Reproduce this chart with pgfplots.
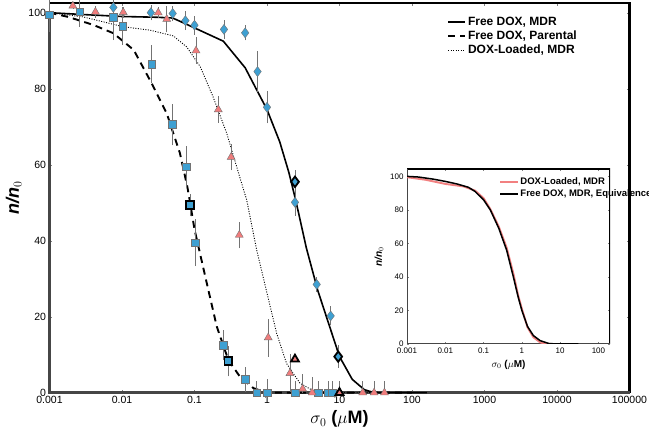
\documentclass[border=0pt]{standalone}
\usepackage{pgfplots}
\pgfplotsset{compat=1.18}
\usepackage{fontspec}
\setmainfont{Liberation Sans}
\definecolor{sq}{RGB}{62,160,210}
\definecolor{tri}{RGB}{240,125,125}
\definecolor{axgray}{RGB}{70,70,70}
\definecolor{errgray}{RGB}{115,115,115}
\definecolor{inred}{RGB}{242,128,128}

\begin{document}
\begin{tikzpicture}
\path[use as bounding box] (0,0) rectangle (649pt,-443pt);
\begin{axis}[
  at={(49.5pt,-392.7pt)}, anchor=south west,
  scale only axis, width=580pt, height=389.7pt,
  xmode=log, xmin=0.001, xmax=100000, ymin=0, ymax=102.55,
  clip=false,
  axis line style={draw=none},
  unbounded coords=jump,
  xtick={0.001,0.01,0.1,1,10,100,1000,10000,100000},
  xticklabels={0.001,0.01,0.1,1,10,100,1000,10000,100000},
  ytick={0,20,40,60,80,100},
  yticklabels={0,20,40,60,80,100},
  xminorticks=false,
  major tick length=3pt, tick align=inside,
  ticklabel style={font=\fontsize{10.5}{12}\selectfont},
  xlabel={\bfseries $\sigma_0$ ($\mu$M)},
  xlabel style={font=\fontsize{18}{20}\selectfont},
  ylabel={\bfseries\itshape n/n$_0$},
  ylabel style={font=\fontsize{18}{20}\selectfont},
  legend style={draw=none, fill=none, at={(0.68,0.975)}, anchor=north west,
    font=\bfseries\fontsize{12}{14}\selectfont},
  legend cell align=left,
]
\draw[line width=2.6pt, black] (rel axis cs:0,1) -- (rel axis cs:1,1) -- (rel axis cs:1,0);
\draw[line width=2.6pt, axgray] (rel axis cs:0,0.975) -- (rel axis cs:0,0) -- (rel axis cs:1,0);

\addplot[black, line width=1.6pt, no marks] coordinates {
(0.001,100) (0.003,99.5) (0.01,99) (0.03,98.8) (0.05,98.6) (0.1,96) (0.25,92.5) (0.5,85.5)
(1.0,74.5) (1.5,66) (2.0,58) (2.5,50.5) (3.5,38) (5,27) (7,18.5) (10,9.5) (15,3.5) (22,0.8) (30,0) (160,0)};
\addlegendentry{{Free DOX, MDR}}
\addplot[black, line width=1.9pt, dash pattern=on 7pt off 5pt, no marks] coordinates {
(0.001,100) (0.0018,98.9) (0.004,96.8) (0.0076,94.6) (0.0145,90.2) (0.0257,81.4) (0.0414,73.5)
(0.063,63) (0.08,54) (0.087,50) (0.1,43) (0.147,29) (0.203,17.4) (0.293,8.6) (0.424,4.2) (0.65,1.2) (1,0) (100,0)};
\addlegendentry{{Free DOX, Parental}}
\addplot[black, line width=0.9pt, dash pattern=on 1pt off 1.5pt, no marks] coordinates {
(0.001,100) (0.0029,98.9) (0.0104,96.3) (0.0243,95.4) (0.051,93.9) (0.078,91) (0.12,85.8) (0.18,77.9)
(0.278,68.3) (0.42,56.8) (0.525,50.7) (0.72,37.6) (1.0,26.2) (1.36,15.6) (1.86,7.7) (2.85,2.5) (4.35,0.5) (6,0) (40,0)};
\addlegendentry{{DOX-Loaded, MDR}}

\addplot[errgray, line width=0.6pt, no marks, forget plot] coordinates {
(0.001,95) (0.001,104) (0.001,nan)
(0.0026,96.3) (0.0026,104.3) (0.0026,nan)
(0.0076,92.8) (0.0076,104.8) (0.0076,nan)
(0.0102,91.5) (0.0102,101.5) (0.0102,nan)
(0.0257,81.5) (0.0257,91.5) (0.0257,nan)
(0.0497,65.1) (0.0497,76.1) (0.0497,nan)
(0.0762,54) (0.0762,65) (0.0762,nan)
(0.102,33.3) (0.102,45.7) (0.102,nan)
(0.25,8.5) (0.25,16.5) (0.25,nan)
(0.5,0.2) (0.5,6.8) (0.5,nan)
(0.72,0) (0.72,3) (0.72,nan)
(1.0,0) (1.0,3.5) (1.0,nan)
(2.43,0) (2.43,3) (2.43,nan)
(5.1,0) (5.1,3) (5.1,nan)
(7.0,0) (7.0,3) (7.0,nan)
(8.0,0) (8.0,3) (8.0,nan)
(0.087,46.4) (0.087,52.4) (0.087,nan)
(0.293,4.3) (0.293,12.3) (0.293,nan)
(0.025,98) (0.025,102) (0.025,nan)
(0.05,97.8) (0.05,101.8) (0.05,nan)
(0.075,95.4) (0.075,100.4) (0.075,nan)
(0.1,94.2) (0.1,99.2) (0.1,nan)
(0.255,93.1) (0.255,98.1) (0.255,nan)
(0.5,92.7) (0.5,96.7) (0.5,nan)
(0.74,79) (0.74,90) (0.74,nan)
(1.0,70.9) (1.0,79.3) (1.0,nan)
(2.43,46.6) (2.43,58.5) (2.43,nan)
(4.85,26.5) (4.85,30.5) (4.85,nan)
(7.55,17.7) (7.55,22.7) (7.55,nan)
(9.6,6.5) (9.6,12.5) (9.6,nan)
(0.0021,101.1) (0.0021,102.5) (0.0021,nan)
(0.0043,98.7) (0.0043,101.7) (0.0043,nan)
(0.0104,98.6) (0.0104,101.6) (0.0104,nan)
(0.0316,98.5) (0.0316,101.5) (0.0316,nan)
(0.0414,94.8) (0.0414,101.8) (0.0414,nan)
(0.105,86.5) (0.105,93.5) (0.105,nan)
(0.213,71) (0.213,78) (0.213,nan)
(0.32,58.5) (0.32,65.5) (0.32,nan)
(0.415,38) (0.415,45) (0.415,nan)
(1.04,9.5) (1.04,19.5) (1.04,nan)
(2.07,0.1) (2.07,10.1) (2.07,nan)
(3.1,0) (3.1,5) (3.1,nan)
(4.2,0) (4.2,4) (4.2,nan)
(20.9,0) (20.9,3) (20.9,nan)
(30,0) (30,3) (30,nan)
(41.7,0) (41.7,3) (41.7,nan)
(10,0) (10,3) (10,nan)
};

\addplot[only marks, mark=square*, mark size=3.8pt, mark options={fill=sq, draw=black!55}, forget plot]
coordinates {
(0.001,99.5) (0.0026,100.3) (0.0076,98.8) (0.0102,96.5) (0.0257,86.5) (0.0497,70.6) (0.0762,59.5)
(0.102,39.5) (0.25,12.5) (0.50,3.5) (0.72,0) (1.0,0) (2.43,0) (5.1,0) (7.0,0) (8.0,0)};
\addplot[only marks, mark=diamond*, mark size=5pt, mark options={fill=sq, draw=black!55}, forget plot]
coordinates {
(0.0076,101.4) (0.025,100) (0.05,99.8) (0.075,97.9) (0.1,96.7) (0.255,95.6) (0.5,94.7)
(0.74,84.5) (1.0,75.1) (2.43,50.1) (4.85,28.5) (7.55,20.2)};
\addplot[only marks, mark=triangle*, mark size=4.6pt, mark options={fill=tri, draw=black!55}, forget plot]
coordinates {
(0.0021,101.8) (0.0043,100.2) (0.0104,100.1) (0.0316,100.0) (0.0414,98.3) (0.105,90) (0.213,74.5)
(0.32,62) (0.415,41.5) (1.04,14.5) (2.07,5.1) (3.1,1) (4.2,0) (20.9,0) (30,0) (41.7,0)};
\addplot[only marks, mark=square*, mark size=3.8pt, mark options={fill=sq, draw=black, line width=1.8pt}, forget plot]
coordinates {(0.087,49.4) (0.293,8.3)};
\addplot[only marks, mark=diamond*, mark size=5.2pt, mark options={fill=sq, draw=black, line width=1.8pt}, forget plot]
coordinates {(2.43,55.5) (9.6,9.5)};
\addplot[only marks, mark=triangle*, mark size=4.6pt, mark options={fill=tri, draw=black, line width=1.8pt}, forget plot]
coordinates {(2.43,8.8) (10,0)};
\end{axis}

\begin{axis}[
  at={(407pt,-344pt)}, anchor=south west,
  scale only axis, width=203pt, height=175pt,
  xmode=log, xmin=0.001, xmax=200, ymin=0, ymax=104.4,
  axis background/.style={fill=white},
  axis line style={draw=none},
  xtick={0.001,0.01,0.1,1,10,100},
  xticklabels={0.001,0.01,0.1,1,10,100},
  ytick={0,20,40,60,80,100},
  yticklabels={0,20,40,60,80,100},
  xminorticks=false,
  major tick length=2pt, tick align=inside,
  ticklabel style={font=\fontsize{8}{9}\selectfont},
  xlabel={\bfseries $\sigma_0$ ($\mu$M)},
  xlabel style={font=\fontsize{10}{11}\selectfont},
  ylabel={\bfseries\itshape n/n$_0$},
  ylabel style={font=\fontsize{10}{11}\selectfont},
  legend style={draw=none, fill=none, at={(0.44,0.975)}, anchor=north west,
    font=\bfseries\fontsize{9.5}{11}\selectfont},
  legend cell align=left,
]
\draw[line width=2.4pt, black] (rel axis cs:0,1) -- (rel axis cs:1,1) -- (rel axis cs:1,0);
\draw[line width=2.4pt, axgray] (rel axis cs:0,1) -- (rel axis cs:0,0) -- (rel axis cs:1,0);
\addplot[inred, line width=1.9pt, no marks] coordinates {
(0.001,99.5) (0.003,98) (0.01,95.5) (0.03,94) (0.06,91.5) (0.1,87) (0.15,80.5) (0.25,70) (0.4,57.5)
(0.6,42) (0.8,29) (1.0,21) (1.4,10) (2,4) (3,1) (4,0.2) (6,0)};
\addlegendentry{{DOX-Loaded, MDR}}
\addplot[black, line width=1.5pt, no marks] coordinates {
(0.001,100) (0.002,99.6) (0.005,98.3) (0.01,97) (0.02,95.5) (0.04,93.5) (0.06,91) (0.1,86) (0.15,80)
(0.25,69) (0.4,56) (0.6,40) (0.8,28) (1.0,20) (1.4,10.5) (2,5) (3,2) (5,0.3) (8,0) (30,0)};
\addlegendentry{{Free DOX, MDR, Equivalence}}
\end{axis}
\end{tikzpicture}
\end{document}
